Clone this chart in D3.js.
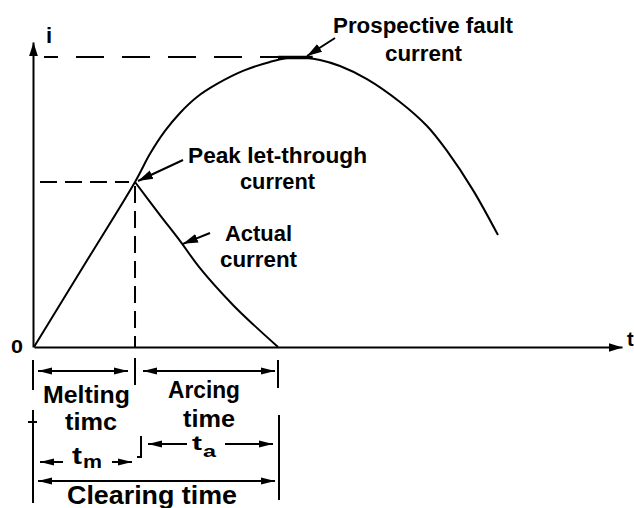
<!DOCTYPE html>
<html>
<head>
<meta charset="utf-8">
<script src="https://cdn.jsdelivr.net/npm/d3@7"></script>
<style>
  body { margin: 0; background: #fff; }
  svg { display: block; background: #fff; }
  text { font-family: "Liberation Sans", Arial, Helvetica, sans-serif; font-weight: bold; fill: #000; }
</style>
</head>
<body>
<svg id="chart" width="634" height="508"></svg>
<script>
// Fuse operation: time in arbitrary units, current normalised to the prospective peak.
const prospectiveT = [0, 8.67, 17.18, 19.73, 22.28, 24.83, 27.72, 31.12, 35.54, 40.14, 44.39, 48.64, 52.04, 56.63, 62.24, 66.84, 70.24, 74.66, 78.91];
const prospectiveI = [0, 0.287, 0.569, 0.666, 0.745, 0.807, 0.862, 0.907, 0.952, 0.983, 1.0, 0.990, 0.969, 0.924, 0.845, 0.762, 0.676, 0.541, 0.386];

const actualT = [17.18, 21.43, 24.83, 28.23, 33.84, 37.59, 41.5];
const actualI = [0.569, 0.455, 0.366, 0.272, 0.145, 0.072, 0];

const meltingTime = 17.18;    // t_m : fuse element melts at the peak let-through point
const clearingTime = 41.5;    // t_m + t_a : arc extinguished
const peakLetThrough = 0.569;
const prospectivePeak = 1.0;
const prospectivePeakT = 44.39;

const tAxisMax = 100;
const iAxisMax = 1.052;

const svg = d3.select("#chart");

const x = d3.scaleLinear().domain([0, tAxisMax]).range([34, 622]);
const y = d3.scaleLinear().domain([0, 1]).range([347, 57]);

// arrowhead markers
const defs = svg.append("defs");
function marker(id, len, half) {
  defs.append("marker")
    .attr("id", id)
    .attr("viewBox", `0 ${-half - 1} ${len} ${2 * half + 2}`)
    .attr("refX", len).attr("refY", 0)
    .attr("markerWidth", len).attr("markerHeight", 2 * half + 2)
    .attr("markerUnits", "userSpaceOnUse")
    .attr("orient", "auto-start-reverse")
    .append("path")
    .attr("d", `M0,${-half}L${len},0L0,${half}Z`)
    .attr("fill", "#000");
}
marker("axisHead", 14, 4.5);
marker("dimHead", 14, 3.5);
marker("noteHead", 15, 4.5);

// axes (no ticks, arrow-tipped)
const xAxis = d3.axisBottom(x).tickValues([]).tickSizeOuter(0);
const gx = svg.append("g").attr("transform", `translate(0,${y(0)})`).call(xAxis);
gx.select(".domain").attr("stroke", "#000").attr("stroke-width", 2).attr("marker-end", "url(#axisHead)");

const yAxisScale = d3.scaleLinear().domain([0, iAxisMax]).range([y(0), y(iAxisMax)]);
const yAxis = d3.axisLeft(yAxisScale).tickValues([]).tickSizeOuter(0);
const gy = svg.append("g").attr("transform", `translate(${x(0) - 1},0)`).call(yAxis);
gy.select(".domain").attr("stroke", "#000").attr("stroke-width", 2).attr("marker-end", "url(#axisHead)");

// dashed reference lines
const dashed = svg.append("g").attr("stroke", "#000").attr("stroke-width", 2).attr("fill", "none");
dashed.append("line")
  .attr("x1", x(0) + 10).attr("x2", x(prospectivePeakT) - 14)
  .attr("y1", y(prospectivePeak)).attr("y2", y(prospectivePeak))
  .attr("stroke-dasharray", "28,18").attr("stroke-dashoffset", 14);
dashed.append("line")
  .attr("x1", x(0) + 6).attr("x2", x(meltingTime) - 6)
  .attr("y1", y(peakLetThrough)).attr("y2", y(peakLetThrough))
  .attr("stroke-dasharray", "17,8");
dashed.append("line")
  .attr("x1", x(meltingTime)).attr("x2", x(meltingTime))
  .attr("y1", y(peakLetThrough) + 4).attr("y2", y(0))
  .attr("stroke-dasharray", "17,8");

// current curves
const line = d3.line().x(d => x(d[0])).y(d => y(d[1])).curve(d3.curveCatmullRom.alpha(0.5));
const prospective = prospectiveT.map((t, k) => [t, prospectiveI[k]]);
const actual = actualT.map((t, k) => [t, actualI[k]]);

svg.append("path").datum(prospective)
  .attr("d", line).attr("fill", "none").attr("stroke", "#000").attr("stroke-width", 2);
svg.append("path").datum(actual)
  .attr("d", line).attr("fill", "none").attr("stroke", "#000").attr("stroke-width", 2);

// thickened crest where the prospective peak is marked
svg.append("line")
  .attr("x1", x(41.5)).attr("x2", x(47.4))
  .attr("y1", y(prospectivePeak) + 0.5).attr("y2", y(prospectivePeak) + 0.5)
  .attr("stroke", "#000").attr("stroke-width", 3.5);

// annotation arrows
const notes = svg.append("g").attr("stroke", "#000").attr("stroke-width", 2).attr("fill", "none");
notes.append("line")
  .attr("x1", 335).attr("y1", 38)
  .attr("x2", x(prospectivePeakT) + 12).attr("y2", y(prospectivePeak) - 1)
  .attr("marker-end", "url(#noteHead)");
notes.append("line")
  .attr("x1", 183).attr("y1", 160)
  .attr("x2", x(meltingTime) + 3).attr("y2", y(peakLetThrough) - 1)
  .attr("marker-end", "url(#noteHead)");
notes.append("line")
  .attr("x1", 210).attr("y1", 233)
  .attr("x2", x(24.83) + 3).attr("y2", y(0.366) + 3)
  .attr("marker-end", "url(#noteHead)");

// labels
function label(txt, x0, yb, size, width) {
  const t = svg.append("text").attr("x", x0).attr("y", yb).attr("font-size", size).text(txt);
  if (width) t.attr("textLength", width).attr("lengthAdjust", "spacingAndGlyphs");
  return t;
}
label("Prospective fault", 333, 33, 22, 180);
label("current", 385, 61, 22, 77);
label("Peak let-through", 188, 163, 22, 179);
label("current", 240, 189, 22, 75);
label("Actual", 225, 241, 22, 67);
label("current", 220, 267, 22, 77);
label("i", 46, 43, 22);
label("0", 11, 353, 19, 12);
label("t", 627, 346, 20);

// time dimensions below the axis
const dims = svg.append("g").attr("stroke", "#000").attr("stroke-width", 2).attr("fill", "none");
function vline(t, y1, y2, dx = 0) {
  dims.append("line").attr("x1", x(t) + dx).attr("x2", x(t) + dx).attr("y1", y1).attr("y2", y2);
}
vline(0, 360, 390, -1);
vline(meltingTime, 358, 385);
vline(clearingTime, 360, 388);
vline(0, 410, 503, -1);
vline(clearingTime, 415, 500, 1);
dims.append("line").attr("x1", x(0) - 6).attr("x2", x(0) + 3).attr("y1", 422).attr("y2", 422);
dims.append("path").attr("d", `M${x(meltingTime) + 6},436V457H${x(meltingTime) + 2}`);

function dimArrow(x1, x2, yy, start, end) {
  const l = dims.append("line").attr("x1", x1).attr("x2", x2).attr("y1", yy).attr("y2", yy);
  if (start) l.attr("marker-start", "url(#dimHead)");
  if (end) l.attr("marker-end", "url(#dimHead)");
}
dimArrow(x(0) + 4, x(meltingTime) - 7, 371, true, true);
dimArrow(x(meltingTime) + 8, x(clearingTime) - 3, 371, true, true);
dimArrow(x(0) + 6, 63, 462, true, false);
dimArrow(112, x(meltingTime) - 3, 462, false, true);
dimArrow(x(meltingTime) + 13, 187, 444, true, false);
dimArrow(225, x(clearingTime) - 5, 444, false, true);
dimArrow(x(0) + 4, x(clearingTime) - 3, 481, true, true);

label("Melting", 43, 403, 24, 87);
label("timc", 65, 430, 24, 52);
label("Arcing", 168, 398, 24, 72);
label("time", 183, 427, 23, 52);
label("Clearing time", 67, 504, 25, 170);
label("t", 72, 464, 24, 10);
label("m", 83, 468, 19, 19);
label("t", 192, 450, 20, 10);
label("a", 203, 457, 16, 13);
</script>
</body>
</html>
